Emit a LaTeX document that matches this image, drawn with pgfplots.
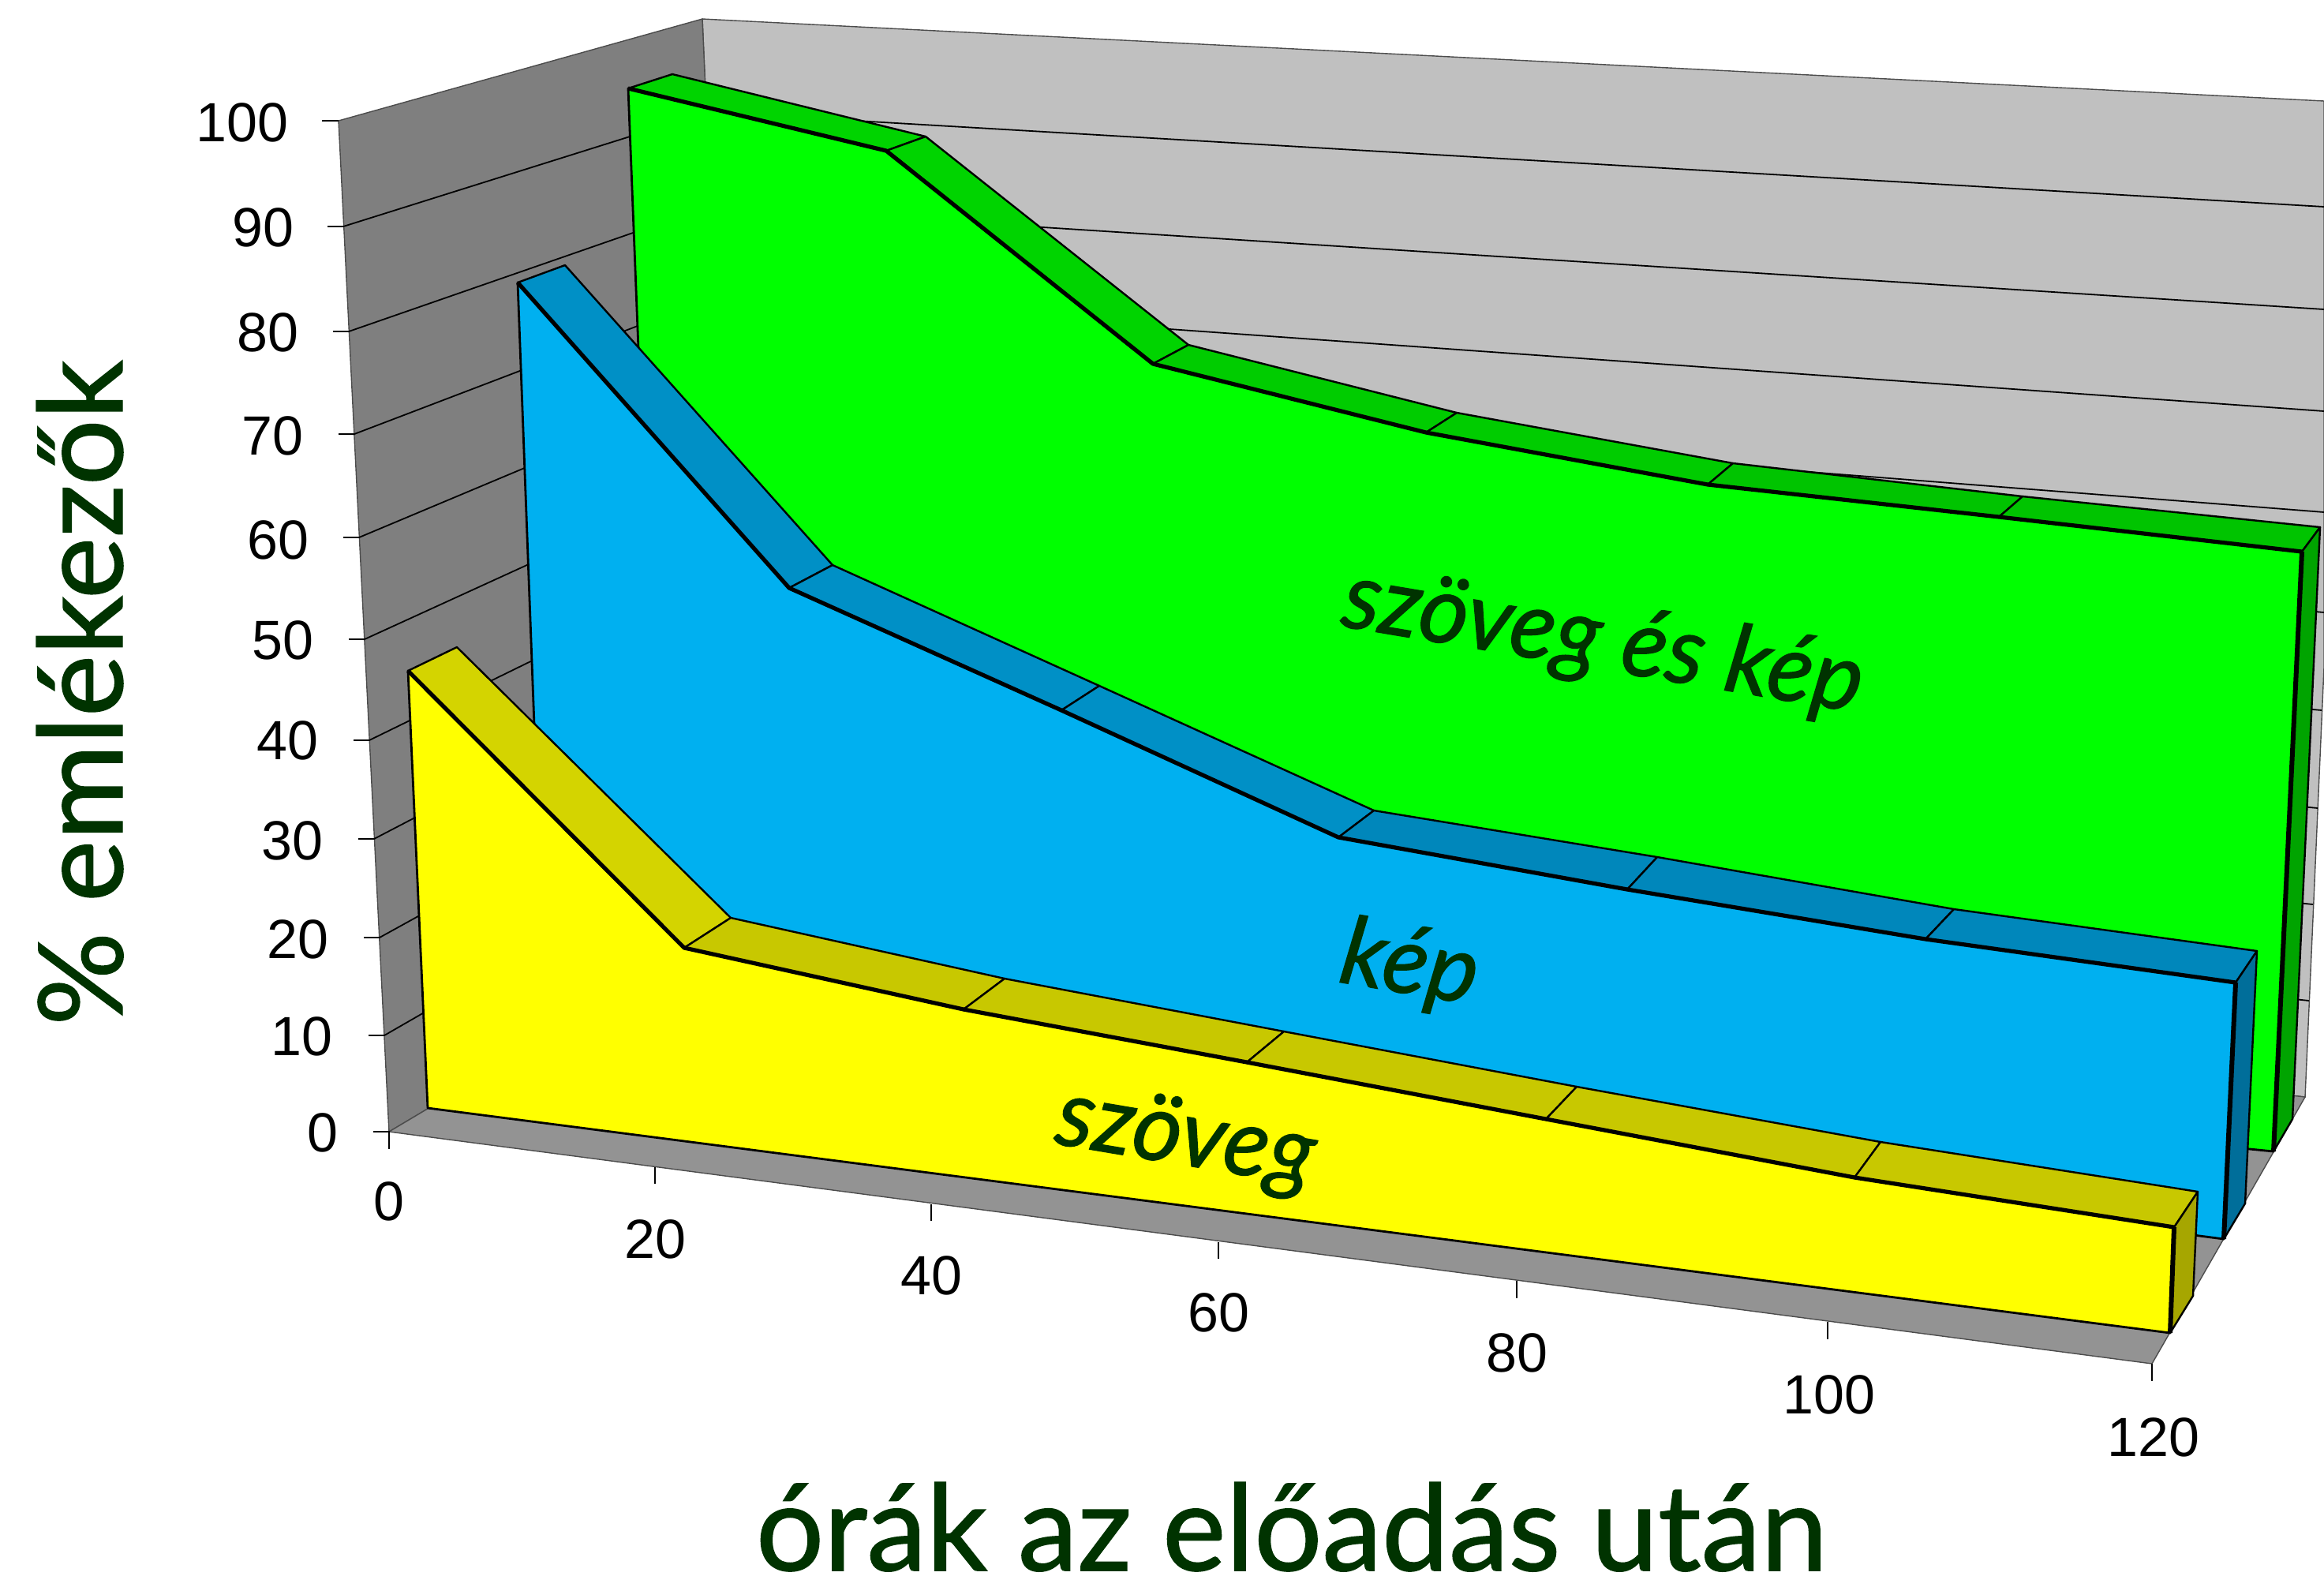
\documentclass[border=0pt]{standalone}
\usepackage{fontspec}
\setmainfont{Liberation Sans}
\newfontfamily\hand[FakeBold=1]{Lato}
\usepackage{pgfplots}
\pgfplotsset{compat=1.18}
\definecolor{wallback}{HTML}{C0C0C0}
\definecolor{wallleft}{HTML}{7F7F7F}
\definecolor{wallfloor}{HTML}{939393}
\definecolor{ink}{HTML}{003300}
\definecolor{grF}{HTML}{00FF00}
\definecolor{grA}{HTML}{00D400}
\definecolor{grB}{HTML}{00CC00}
\definecolor{grC}{HTML}{00C400}
\definecolor{grS}{HTML}{00A400}
\definecolor{blF}{HTML}{00B0F0}
\definecolor{blA}{HTML}{0090C6}
\definecolor{blB}{HTML}{0087BB}
\definecolor{blS}{HTML}{006E9A}
\definecolor{yeF}{HTML}{FFFF00}
\definecolor{yeA}{HTML}{D4D400}
\definecolor{yeB}{HTML}{C8C800}
\definecolor{yeS}{HTML}{A6A600}
\tikzset{
  wall/.style={line width=0.35pt,draw=black!70},
  grid3d/.style={line width=0.45pt,draw=black},
  strip/.style={line width=0.6pt,draw=black,line join=round},
  face/.style={line width=0.7pt,draw=black,line join=round},
  edge3d/.style={line width=1.3pt,draw=black,line join=round},
  vedge/.style={line width=1.5pt,draw=black},
  tl/.style={font=\fontsize{17.5}{20}\selectfont,inner sep=0pt,text=black},
}
\begin{document}
\begin{tikzpicture}
\begin{axis}[
  scale only axis, width=736.25pt, height=503.75pt,
  xmin=0, xmax=2945, ymin=0, ymax=2015, y dir=reverse,
  hide axis, clip=true]
% walls and floor
\addplot[fill=wallback,wall] coordinates {(890,24) (2945,128) (2945,845) (2921,1390) (940,1168)} -- cycle;
\addplot[fill=wallleft,wall] coordinates {(429,153) (890,24) (940,1168) (493,1434)} -- cycle;
\addplot[fill=wallfloor,wall] coordinates {(493,1434) (940,1168) (2921,1390) (2727,1728)} -- cycle;
% gridlines: front tick, corner, right end
\addplot[grid3d] coordinates {(415,287) (435,287) (897,142) (2945,262)};
\addplot[grid3d] coordinates {(422,420) (442,420) (900,261) (2945,392)};
\addplot[grid3d] coordinates {(429,550) (449,550) (905,376) (2945,521)};
\addplot[grid3d] coordinates {(435,681) (455,681) (910,490) (2945,649)};
\addplot[grid3d] coordinates {(442,810) (462,810) (915,603) (2945,776)};
\addplot[grid3d] coordinates {(448,938) (468,938) (920,717) (2942,900)};
\addplot[grid3d] coordinates {(454,1063) (474,1063) (925,828) (2937,1024)};
\addplot[grid3d] coordinates {(461,1188) (481,1188) (930,940) (2931,1146)};
\addplot[grid3d] coordinates {(467,1312) (487,1312) (935,1054) (2926,1268)};
% top and bottom axis ticks
\addplot[grid3d] coordinates {(408,153) (429,153)};
\addplot[grid3d] coordinates {(473,1434) (493,1434) (493,1456)};
\addplot[grid3d] coordinates {(830,1479) (830,1500)};
\addplot[grid3d] coordinates {(1180,1526) (1180,1547)};
\addplot[grid3d] coordinates {(1544,1574) (1544,1595)};
\addplot[grid3d] coordinates {(1922,1623) (1922,1645)};
\addplot[grid3d] coordinates {(2316,1675) (2316,1697)};
\addplot[grid3d] coordinates {(2727,1728) (2727,1750)};
% green series
\addplot[fill=grA,strip] coordinates {(796,112) (852,94) (1173,173) (1123,191)} -- cycle;
\addplot[fill=grA,strip] coordinates {(1123,191) (1173,173) (1506,437) (1461,461)} -- cycle;
\addplot[fill=grB,strip] coordinates {(1461,461) (1506,437) (1846,523) (1807,548)} -- cycle;
\addplot[fill=grB,strip] coordinates {(1807,548) (1846,523) (2196,587) (2164,614)} -- cycle;
\addplot[fill=grC,strip] coordinates {(2164,614) (2196,587) (2563,629) (2533,655)} -- cycle;
\addplot[fill=grC,strip] coordinates {(2533,655) (2563,629) (2940,668) (2917,699)} -- cycle;
\addplot[fill=grS,strip] coordinates {(2917,699) (2940,668) (2905,1418) (2881,1459)} -- cycle;
\addplot[fill=grF,face] coordinates {(796,112) (1123,191) (1461,461) (1807,548) (2164,614) (2533,655) (2917,699) (2881,1459) (841,1255)} -- cycle;
\addplot[edge3d] coordinates {(796,112) (1123,191) (1461,461) (1807,548) (2164,614) (2533,655) (2917,699)};
\addplot[vedge] coordinates {(2917,699) (2881,1459)};
% blue series
\addplot[fill=blA,strip] coordinates {(656,358) (716,336) (1055,716) (1000,745)} -- cycle;
\addplot[fill=blA,strip] coordinates {(1000,745) (1055,716) (1393,869) (1345,900)} -- cycle;
\addplot[fill=blA,strip] coordinates {(1345,900) (1393,869) (1741,1027) (1696,1061)} -- cycle;
\addplot[fill=blB,strip] coordinates {(1696,1061) (1741,1027) (2100,1086) (2062,1127)} -- cycle;
\addplot[fill=blB,strip] coordinates {(2062,1127) (2100,1086) (2476,1152) (2440,1190)} -- cycle;
\addplot[fill=blB,strip] coordinates {(2440,1190) (2476,1152) (2860,1205) (2833,1245)} -- cycle;
\addplot[fill=blS,strip] coordinates {(2833,1245) (2860,1205) (2845,1525) (2818,1570)} -- cycle;
\addplot[fill=blF,face] coordinates {(656,358) (1000,745) (1345,900) (1696,1061) (2062,1127) (2440,1190) (2833,1245) (2818,1570) (691,1293)} -- cycle;
\addplot[edge3d] coordinates {(656,358) (1000,745) (1345,900) (1696,1061) (2062,1127) (2440,1190) (2833,1245)};
\addplot[vedge] coordinates {(2833,1245) (2818,1570)};
% yellow series
\addplot[fill=yeA,strip] coordinates {(517,850) (579,820) (926,1163) (867,1201)} -- cycle;
\addplot[fill=yeB,strip] coordinates {(867,1201) (926,1163) (1273,1240) (1221,1279)} -- cycle;
\addplot[fill=yeB,strip] coordinates {(1221,1279) (1273,1240) (1627,1307) (1580,1346)} -- cycle;
\addplot[fill=yeB,strip] coordinates {(1580,1346) (1627,1307) (1998,1377) (1959,1418)} -- cycle;
\addplot[fill=yeB,strip] coordinates {(1959,1418) (1998,1377) (2383,1447) (2350,1492)} -- cycle;
\addplot[fill=yeB,strip] coordinates {(2350,1492) (2383,1447) (2785,1510) (2755,1555)} -- cycle;
\addplot[fill=yeS,strip] coordinates {(2755,1555) (2785,1510) (2779,1642) (2750,1689)} -- cycle;
\addplot[fill=yeF,face] coordinates {(517,850) (867,1201) (1221,1279) (1580,1346) (1959,1418) (2350,1492) (2755,1555) (2750,1689) (542,1404)} -- cycle;
\addplot[edge3d] coordinates {(517,850) (867,1201) (1221,1279) (1580,1346) (1959,1418) (2350,1492) (2755,1555)};
\addplot[vedge] coordinates {(2755,1555) (2750,1689)};
% tick labels
\node[tl,anchor=east] at (axis cs:366,155) {100};
\node[tl,anchor=east] at (axis cs:373,288) {90};
\node[tl,anchor=east] at (axis cs:379,421) {80};
\node[tl,anchor=east] at (axis cs:385,552) {70};
\node[tl,anchor=east] at (axis cs:392,684) {60};
\node[tl,anchor=east] at (axis cs:398,811) {50};
\node[tl,anchor=east] at (axis cs:404,938) {40};
\node[tl,anchor=east] at (axis cs:410,1065) {30};
\node[tl,anchor=east] at (axis cs:417,1190) {20};
\node[tl,anchor=east] at (axis cs:422,1313) {10};
\node[tl,anchor=east] at (axis cs:429,1435) {0};
\node[tl] at (axis cs:493,1522) {0};
\node[tl] at (axis cs:830,1570) {20};
\node[tl] at (axis cs:1180,1616) {40};
\node[tl] at (axis cs:1544,1663) {60};
\node[tl] at (axis cs:1922,1714) {80};
\node[tl] at (axis cs:2318,1767) {100};
\node[tl] at (axis cs:2729,1821) {120};
% titles and labels
\node[text=ink,inner sep=0pt,anchor=base,font=\hand\fontsize{38}{42}\selectfont] at (axis cs:1637,1990) {órák az előadás után};
\node[text=ink,inner sep=0pt,anchor=base,rotate=90,font=\hand\fontsize{37}{42}\selectfont] at (axis cs:155,878) {\% emlékezők};
\node[text=ink,inner sep=0pt,rotate=-9.5,font=\hand\itshape\fontsize{30}{34}\selectfont] at (axis cs:2031,815) {szöveg és kép};
\node[text=ink,inner sep=0pt,rotate=-9.5,font=\hand\itshape\fontsize{30}{34}\selectfont] at (axis cs:1786,1225) {kép};
\node[text=ink,inner sep=0pt,rotate=-9.5,font=\hand\itshape\fontsize{30}{34}\selectfont] at (axis cs:1502,1445) {szöveg};
\end{axis}
\pgfresetboundingbox
\path[use as bounding box] (0,0) rectangle (736.25pt,503.75pt);
\end{tikzpicture}
\end{document}
